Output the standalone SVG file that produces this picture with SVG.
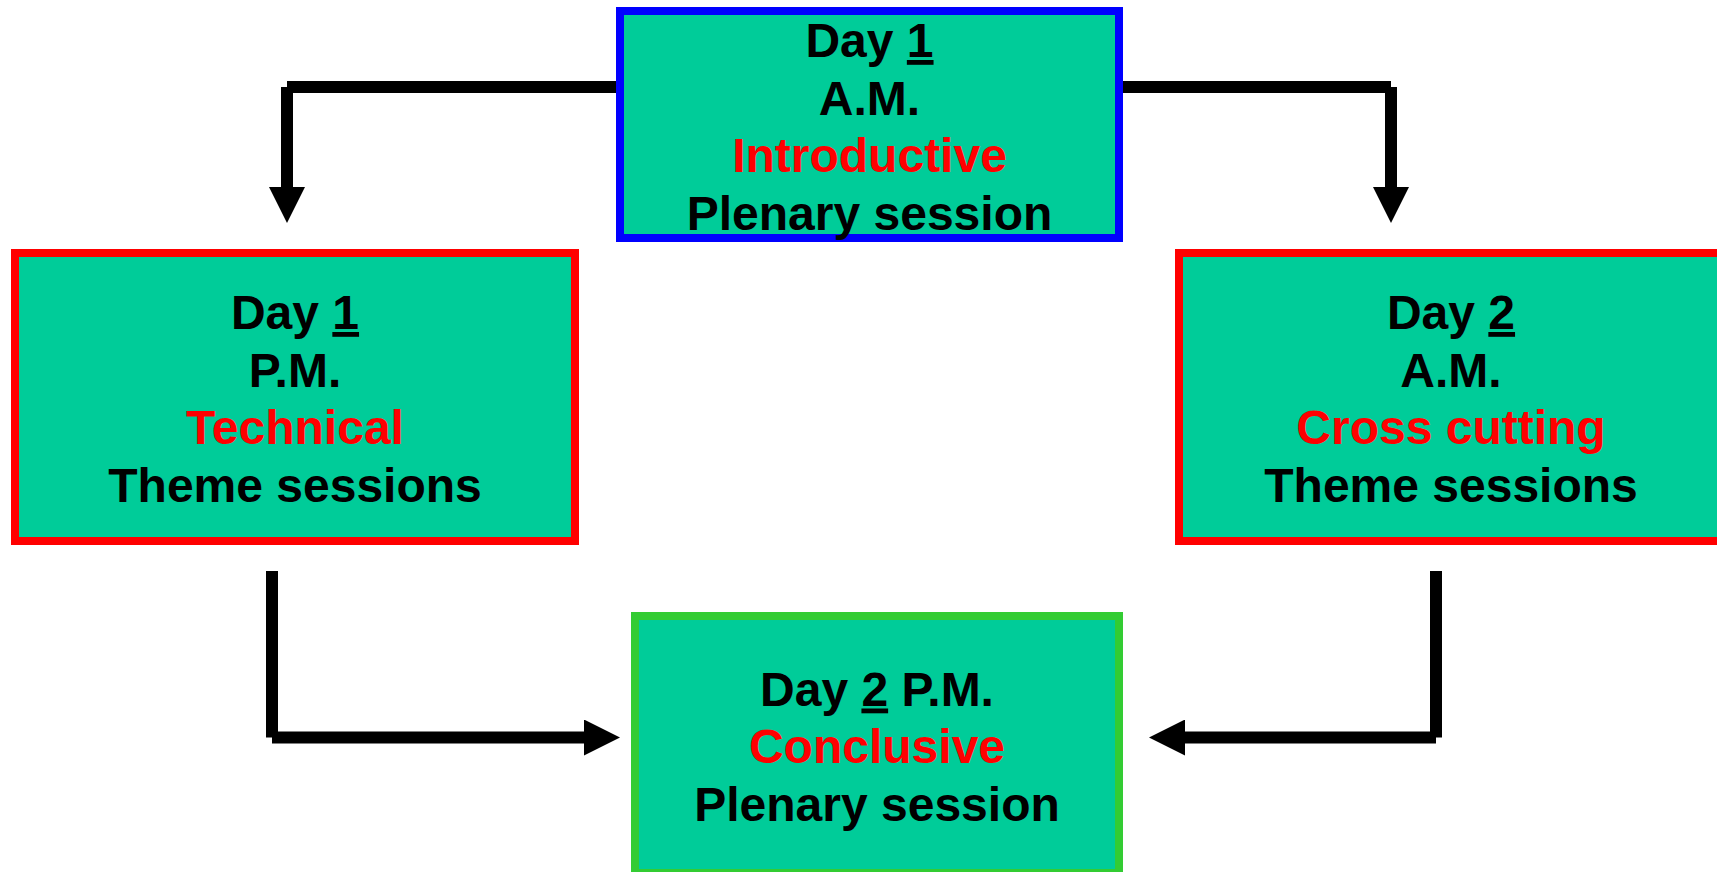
<svg xmlns="http://www.w3.org/2000/svg" width="1717" height="872" viewBox="0 0 1717 872">
<style>
  .box { fill: #00CC99; stroke-width: 8; }
  .t { font-family: "Liberation Sans", Arial, sans-serif; font-weight: bold; font-size: 48px; text-anchor: middle; fill: #000000; }
  .r { fill: #FF0000; }
  .u { text-decoration: underline; }
  .conn { fill: none; stroke: #000000; stroke-width: 12; stroke-linecap: butt; }
</style>
<defs>
  <marker id="ah" markerUnits="userSpaceOnUse" markerWidth="37" markerHeight="36" viewBox="0 0 37 36" refX="0" refY="18" orient="auto">
    <path d="M0,0 L36,18 L0,36 Z" fill="#000000"/>
  </marker>
</defs>
<rect width="1717" height="872" fill="#FFFFFF"/>
<g id="connectors">
  <path class="conn" d="M620,87 H287 M287,87 V187" marker-end="url(#ah)"/>
  <path class="conn" d="M1119,87 H1391 M1391,87 V187" marker-end="url(#ah)"/>
  <path class="conn" d="M272,571 V737.5 M272,737.5 H584" marker-end="url(#ah)"/>
  <path class="conn" d="M1436,571 V737.5 M1436,737.5 H1185" marker-end="url(#ah)"/>
</g>
<g id="day1am">
  <rect class="box" x="620" y="11" width="499" height="227" stroke="#0000FF"/>
  <text class="t" x="869.5" y="57">Day <tspan class="u">1</tspan></text>
  <text class="t" x="869.5" y="114.5">A.M.</text>
  <text class="t r" x="869.5" y="172">Introductive</text>
  <text class="t" x="869.5" y="229.5">Plenary session</text>
</g>
<g id="day1pm">
  <rect class="box" x="15" y="253" width="560" height="288" stroke="#FF0000"/>
  <text class="t" x="295" y="329">Day <tspan class="u">1</tspan></text>
  <text class="t" x="295" y="386.5">P.M.</text>
  <text class="t r" x="295" y="444">Technical</text>
  <text class="t" x="295" y="501.5">Theme sessions</text>
</g>
<g id="day2am">
  <rect class="box" x="1179" y="253" width="544" height="288" stroke="#FF0000"/>
  <text class="t" x="1451" y="329">Day <tspan class="u">2</tspan></text>
  <text class="t" x="1451" y="386.5">A.M.</text>
  <text class="t r" x="1451" y="444">Cross cutting</text>
  <text class="t" x="1451" y="501.5">Theme sessions</text>
</g>
<g id="day2pm">
  <rect class="box" x="635" y="616" width="484" height="257" stroke="#33CC33"/>
  <text class="t" x="877" y="705.5">Day <tspan class="u">2</tspan> P.M.</text>
  <text class="t r" x="877" y="763">Conclusive</text>
  <text class="t" x="877" y="820.5">Plenary session</text>
</g>
</svg>
